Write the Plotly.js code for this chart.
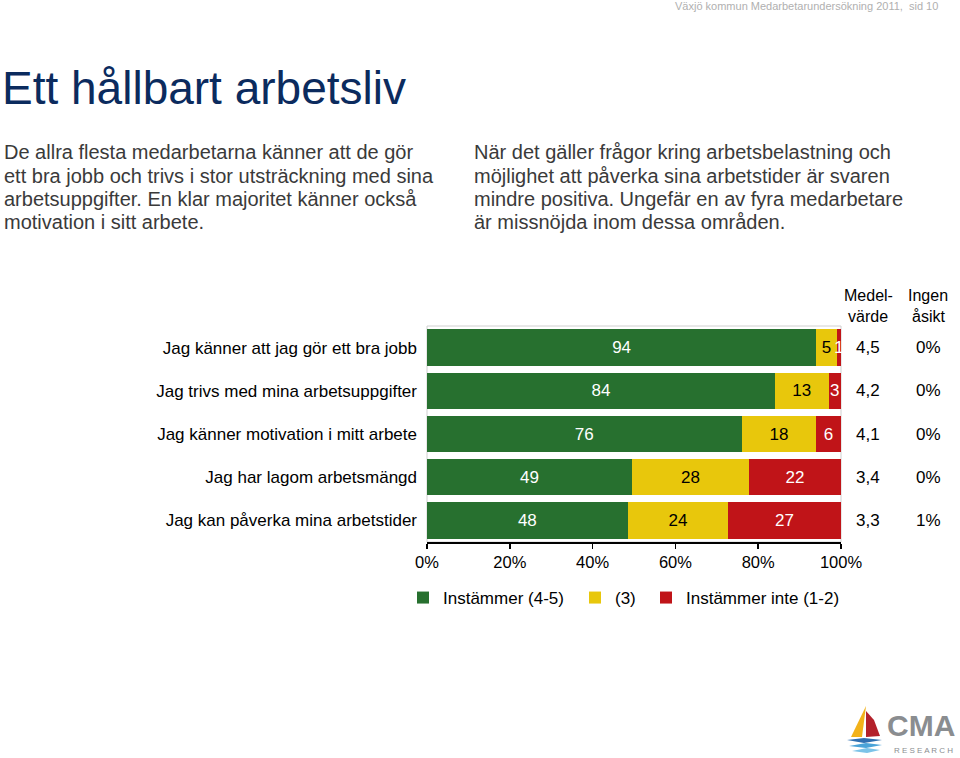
<!DOCTYPE html>
<html><head><meta charset="utf-8">
<script src="https://cdn.plot.ly/plotly-3.0.1.min.js"></script>
<style>html,body{margin:0;padding:0;background:#fff}#chart{width:960px;height:758px}</style>
</head><body><div id="chart"></div>
<script>
const categories = ["Jag känner att jag gör ett bra jobb","Jag trivs med mina arbetsuppgifter","Jag känner motivation i mitt arbete","Jag har lagom arbetsmängd","Jag kan påverka mina arbetstider"];
const agree = [94, 84, 76, 49, 48];
const neutral = [5, 13, 18, 28, 24];
const disagree = [1, 3, 6, 22, 27];
const meanValue = ["4,5","4,2","4,1","3,4","3,3"];
const noOpinion = ["0%","0%","0%","0%","1%"];
const seriesNames = ["Instämmer (4-5)", "(3)", "Instämmer inte (1-2)"];
const xTicks = [0, 20, 40, 60, 80, 100];
const leftText = ["De allra flesta medarbetarna känner att de gör","ett bra jobb och trivs i stor utsträckning med sina","arbetsuppgifter. En klar majoritet känner också","motivation i sitt arbete."];
const rightText = ["När det gäller frågor kring arbetsbelastning och","möjlighet att påverka sina arbetstider är svaren","mindre positiva. Ungefär en av fyra medarbetare","är missnöjda inom dessa områden."];

const L = 427, R = 841, T = 326, B = 542;
const W = R - L, H = B - T;
const px = x => (x - L) / W;
const py = y => (B - y) / H;

const GREEN = "#27702f", YELLOW = "#e8c70c", RED = "#c01418";
const font = "Arial, 'Liberation Sans', sans-serif";

function barTrace(vals, name, color, textColor, legendId) {
  return {
    type: "bar", orientation: "h", y: categories, x: vals, name: name,
    marker: {color: color, line: {width: 0}},
    text: vals.map(String), texttemplate: "%{text}", textposition: "inside",
    insidetextanchor: "middle", textangle: 0,
    textfont: {family: font, size: 17, color: textColor},
    hoverinfo: "skip", legend: legendId, cliponaxis: false
  };
}

const data = [
  barTrace(agree, seriesNames[0], GREEN, "#ffffff", "legend"),
  barTrace(neutral, seriesNames[1], YELLOW, "#000000", "legend2"),
  barTrace(disagree, seriesNames[2], RED, "#ffffff", "legend3")
];

const annotations = [];
categories.forEach((c, i) => {
  annotations.push({xref: "paper", yref: "y", x: px(868), y: c, text: meanValue[i], showarrow: false,
    font: {family: font, size: 17, color: "#000"}, xanchor: "center", yanchor: "middle"});
  annotations.push({xref: "paper", yref: "y", x: px(928), y: c, text: noOpinion[i], showarrow: false,
    font: {family: font, size: 17, color: "#000"}, xanchor: "center", yanchor: "middle"});
});
[["Medel-", 868, 295], ["värde", 868, 316], ["Ingen", 928, 295], ["åsikt", 928, 316]].forEach(h => {
  annotations.push({xref: "paper", yref: "paper", x: px(h[1]), y: py(h[2]), text: h[0], showarrow: false,
    font: {family: font, size: 16, color: "#000"}, xanchor: "center", yanchor: "middle"});
});
// header
annotations.push({xref: "paper", yref: "paper", x: px(940), y: py(6), text: "Växjö kommun Medarbetarundersökning 2011,  sid 10", showarrow: false,
  font: {family: font, size: 11, color: "#b0b0b0"}, xanchor: "right", yanchor: "middle"});
// paragraphs
const lineY = [152, 176, 199, 222];
leftText.forEach((t, i) => annotations.push({xref: "paper", yref: "paper", x: px(2), y: py(lineY[i]), text: t,
  showarrow: false, font: {family: font, size: 20, color: "#3a3a3a"}, xanchor: "left", yanchor: "middle"}));
rightText.forEach((t, i) => annotations.push({xref: "paper", yref: "paper", x: px(472), y: py(lineY[i]), text: t,
  showarrow: false, font: {family: font, size: 20, color: "#3a3a3a"}, xanchor: "left", yanchor: "middle"}));
// logo text
annotations.push({xref: "paper", yref: "paper", x: px(921), y: py(725), text: "<b>CMA</b>", showarrow: false,
  font: {family: font, size: 30, color: "#8a8d90"}, xanchor: "center", yanchor: "middle"});
annotations.push({xref: "paper", yref: "paper", x: px(923), y: py(750), text: "R E S E A R C H", showarrow: false,
  font: {family: font, size: 8, color: "#8a8d90"}, xanchor: "center", yanchor: "middle"});

function pathPx(pts) {
  return "M" + pts.map(p => px(p[0]).toFixed(4) + "," + py(p[1]).toFixed(4)).join(" L") + " Z";
}
const shapes = [
  {type: "rect", xref: "paper", yref: "paper", x0: 0, x1: 1, y0: 0, y1: py(T), line: {color: "#d0d0d0", width: 1}, layer: "below"},
  {type: "path", xref: "paper", yref: "paper", path: pathPx([[851,737],[866,706],[862,737]]), fillcolor: "#f2b21a", line: {width: 0}},
  {type: "path", xref: "paper", yref: "paper", path: pathPx([[866,711],[874,720],[880,736],[866,737]]), fillcolor: "#b3202a", line: {width: 0}},
  {type: "path", xref: "paper", yref: "paper", path: pathPx([[847,740],[864,738],[882,740],[864,743]]), fillcolor: "#2f6fb0", line: {width: 0}},
  {type: "path", xref: "paper", yref: "paper", path: pathPx([[849,746],[866,743],[882,745],[866,748]]), fillcolor: "#4aa3d8", line: {width: 0}},
  {type: "path", xref: "paper", yref: "paper", path: pathPx([[852,751],[867,748],[880,750],[867,753]]), fillcolor: "#7cc3e8", line: {width: 0}}
];

const legendBase = {orientation: "h", xanchor: "left", yanchor: "middle", y: py(598),
  font: {family: font, size: 17, color: "#000"}, bgcolor: "rgba(0,0,0,0)", borderwidth: 0, itemwidth: 30};

const layout = {
  width: 960, height: 758,
  margin: {l: L, r: 960 - R, t: T, b: 758 - B, pad: 0},
  paper_bgcolor: "#fff", plot_bgcolor: "#fff",
  barmode: "stack", barnorm: "percent", bargap: 0.16,
  title: {text: "Ett hållbart arbetsliv", xref: "container", yref: "container", x: 2/960, y: 1 - 88/758,
    xanchor: "left", yanchor: "middle", font: {family: font, size: 46, color: "#0b2b5e"}},
  xaxis: {range: [0, 100.001], tickvals: xTicks, ticktext: xTicks.map(v => v + "%"), showgrid: false, zeroline: false,
    showline: true, linecolor: "#000", linewidth: 1.5, ticks: "outside", ticklen: 5, tickcolor: "#000", tickwidth: 1.5,
    tickfont: {family: font, size: 16.5, color: "#000"}, fixedrange: true},
  yaxis: {autorange: "reversed", showgrid: false, zeroline: false, showline: false, ticks: "",
    ticklabelstandoff: 9, tickfont: {family: font, size: 17, color: "#000"}, fixedrange: true},
  showlegend: true,
  legend: Object.assign({}, legendBase, {x: px(403)}),
  legend2: Object.assign({}, legendBase, {x: px(575)}),
  legend3: Object.assign({}, legendBase, {x: px(646)}),
  annotations: annotations,
  shapes: shapes,
  uniformtext: {mode: "show", minsize: 17}
};

Plotly.newPlot("chart", data, layout, {displayModeBar: false, staticPlot: true});
</script></body></html>
